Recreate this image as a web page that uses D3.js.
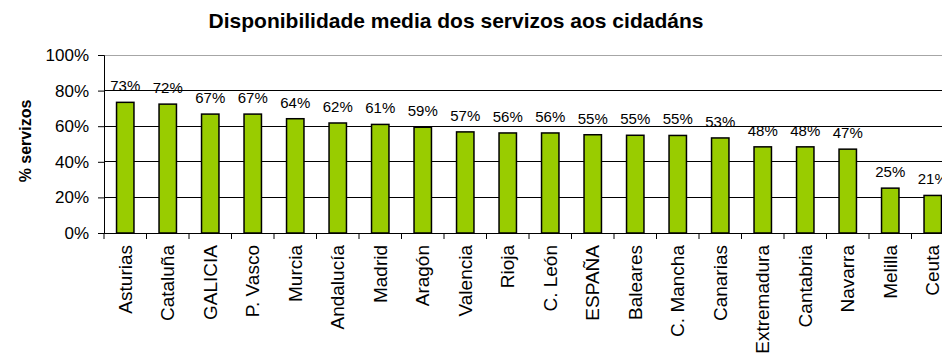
<!DOCTYPE html>
<html>
<head>
<meta charset="utf-8">
<script src="https://cdn.jsdelivr.net/npm/d3@7"></script>
<style>
  html, body { margin: 0; padding: 0; background: #fff; }
  svg { display: block; font-family: "Liberation Sans", Arial, sans-serif; }
</style>
</head>
<body>
<svg id="chart" width="942" height="354"></svg>
<script>
const TITLE = "Disponibilidade media dos servizos aos cidadáns";
const Y_TITLE = "% servizos";
const regions = ["Asturias", "Cataluña", "GALICIA", "P. Vasco", "Murcia", "Andalucía", "Madrid",
  "Aragón", "Valencia", "Rioja", "C. León", "ESPAÑA", "Baleares", "C. Mancha", "Canarias",
  "Extremadura", "Cantabria", "Navarra", "Melilla", "Ceuta"];
const values = [0.734, 0.724, 0.668, 0.668, 0.642, 0.618, 0.610, 0.594, 0.568, 0.562, 0.562,
  0.552, 0.549, 0.548, 0.534, 0.484, 0.484, 0.471, 0.252, 0.211];
const yTicks = [0, 0.2, 0.4, 0.6, 0.8, 1];

const MARGIN = { top: 55, left: 104, bottom: 121 };
const BAND = 42.5;
const W = 942, H = 354;

const svg = d3.select("#chart");
const innerW = BAND * regions.length;
const innerH = H - MARGIN.top - MARGIN.bottom;

const x = d3.scaleBand(regions, [0, innerW]).paddingInner(0.59).paddingOuter(0.295);
const xEdge = d3.scaleBand(regions, [0, innerW]);
const y = d3.scaleLinear([0, 1], [innerH, 0]);
const pct = d3.format(".0%");

const g = svg.append("g").attr("transform", `translate(${MARGIN.left},${MARGIN.top})`);

// gridlines
g.append("g").selectAll("line").data(yTicks.filter(d => d > 0)).join("line")
  .attr("x1", 0).attr("x2", innerW)
  .attr("y1", d => y(d)).attr("y2", d => y(d))
  .attr("stroke", d => d === 1 ? "#a6a6a6" : "#000")
  .attr("stroke-width", 1)
  .attr("shape-rendering", "crispEdges");

// bars
g.append("g").selectAll("rect").data(regions).join("rect")
  .attr("x", d => x(d))
  .attr("y", (d, i) => y(values[i]))
  .attr("width", x.bandwidth())
  .attr("height", (d, i) => innerH - y(values[i]))
  .attr("fill", "#99cc00")
  .attr("stroke", "#000")
  .attr("stroke-width", 1.5);

// value labels
g.append("g").selectAll("text").data(regions).join("text")
  .attr("x", d => x(d) + x.bandwidth() / 2)
  .attr("y", (d, i) => y(values[i]) - 11)
  .attr("text-anchor", "middle")
  .attr("font-size", 15)
  .attr("fill", "#000")
  .text((d, i) => pct(Math.round(values[i] * 100) / 100));

// y axis
const yAxis = g.append("g")
  .call(d3.axisLeft(y).tickValues(yTicks).tickFormat(pct).tickSize(6).tickPadding(9));
yAxis.selectAll("text").attr("font-size", 17).attr("fill", "#000").attr("font-family", null);
yAxis.selectAll("line, path").attr("stroke", "#000");

// x axis
const xAxisG = g.append("g").attr("transform", `translate(0,${innerH})`);
xAxisG.append("line").attr("x1", 0).attr("x2", innerW).attr("stroke", "#000")
  .attr("shape-rendering", "crispEdges");
xAxisG.selectAll(".tick").data(regions.concat(["__end"])).join("line")
  .attr("class", "tick")
  .attr("x1", d => d === "__end" ? innerW : xEdge(d))
  .attr("x2", d => d === "__end" ? innerW : xEdge(d))
  .attr("y1", 0).attr("y2", 6)
  .attr("stroke", "#000");
xAxisG.selectAll("text").data(regions).join("text")
  .attr("transform", d => `translate(${x(d) + x.bandwidth() / 2},12) rotate(-90)`)
  .attr("text-anchor", "end")
  .attr("dy", "0.35em")
  .attr("font-size", 19)
  .attr("fill", "#000")
  .text(d => d);

// titles
svg.append("text")
  .attr("x", 456).attr("y", 28)
  .attr("text-anchor", "middle")
  .attr("font-size", 21)
  .attr("font-weight", "bold")
  .text(TITLE);

svg.append("text")
  .attr("transform", `translate(31,141) rotate(-90)`)
  .attr("text-anchor", "middle")
  .attr("font-size", 16)
  .attr("font-weight", "bold")
  .text(Y_TITLE);
</script>
</body>
</html>
